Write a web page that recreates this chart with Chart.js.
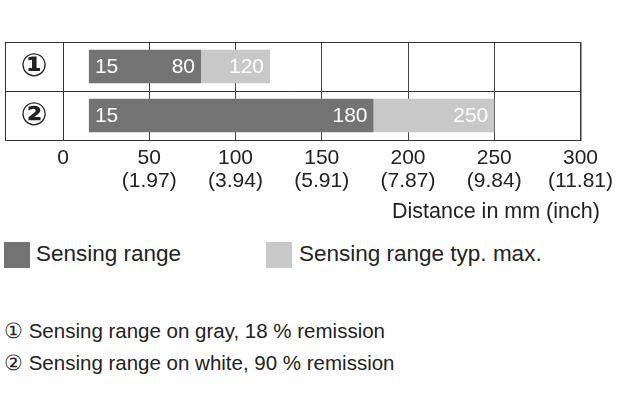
<!DOCTYPE html>
<html><head><meta charset="utf-8">
<script src="https://cdn.jsdelivr.net/npm/chart.js@4"></script>
<style>
body{margin:0;width:620px;height:420px;background:#fff;font-family:"Liberation Sans",Arial,sans-serif;color:#222;position:relative;overflow:hidden}
#c{position:absolute;left:0;top:0}
.t{position:absolute;white-space:nowrap}
.sw{position:absolute;width:26px;height:26px}
</style></head><body>
<canvas id="c" width="620" height="230"></canvas>
<div class="t" style="left:392px;top:199px;font-size:21.5px">Distance in mm (inch)</div>
<div class="sw" style="left:4px;top:242px;background:#737373"></div>
<div class="t" style="left:36px;top:241px;font-size:22.5px">Sensing range</div>
<div class="sw" style="left:266px;top:242px;background:#c8c8c8"></div>
<div class="t" style="left:299px;top:241px;font-size:22.5px">Sensing range typ. max.</div>
<div class="t" style="left:4px;top:319px;font-size:20.5px">① Sensing range on gray, 18 % remission</div>
<div class="t" style="left:4px;top:351px;font-size:20.5px">② Sensing range on white, 90 % remission</div>
<script>
const categories = ['①','②'];
const rangeStart = [15, 15];
const rangeEnd = [80, 180];
const maxEnd = [120, 250];
const tickValues = [0,50,100,150,200,250,300];
const tickInch = ['', '(1.97)','(3.94)','(5.91)','(7.87)','(9.84)','(11.81)'];

const frame = {
  id:'frame',
  afterDraw(ch){
    const c=ch.ctx, a=ch.chartArea, x=ch.scales.x, y=ch.scales.y;
    c.save();
    c.strokeStyle='#333'; c.lineWidth=1;
    c.strokeRect(5.5,a.top+0.5,a.right-5,a.bottom-a.top);
    c.beginPath();
    c.moveTo(a.left+0.5,a.top); c.lineTo(a.left+0.5,a.bottom);
    const mid=Math.round((y.getPixelForValue(0)+y.getPixelForValue(1))/2)+0.5;
    c.moveTo(5,mid); c.lineTo(a.right,mid);
    c.stroke();
    c.fillStyle='#222'; c.font='bold 32px "DejaVu Sans"'; c.textAlign='center'; c.textBaseline='middle';
    categories.forEach((l,i)=>c.fillText(l,34,y.getPixelForValue(i)+1));
    c.fillStyle='#fff'; c.font='21px "Liberation Sans"';
    categories.forEach((l,i)=>{
      const py=y.getPixelForValue(i)+1;
      c.textAlign='left'; c.fillText(String(rangeStart[i]),x.getPixelForValue(rangeStart[i])+6,py);
      c.textAlign='right'; c.fillText(String(rangeEnd[i]),x.getPixelForValue(rangeEnd[i])-6,py);
      c.fillText(String(maxEnd[i]),x.getPixelForValue(maxEnd[i])-6,py);
    });
    c.restore();
  }
};

new Chart(document.getElementById('c'),{
  type:'bar',
  data:{labels:categories,datasets:[
    {data:categories.map((_,i)=>[rangeStart[i],rangeEnd[i]]),backgroundColor:'#737373',grouped:false},
    {data:categories.map((_,i)=>[rangeEnd[i],maxEnd[i]]),backgroundColor:'#c8c8c8',grouped:false}
  ]},
  options:{
    indexAxis:'y',responsive:false,animation:false,
    layout:{padding:{left:63,right:32,top:42}},
    plugins:{legend:{display:false},tooltip:{enabled:false}},
    datasets:{bar:{categoryPercentage:1,barPercentage:0.68}},
    scales:{
      y:{display:false},
      x:{min:0,max:300,
        afterBuildTicks(s){s.ticks=tickValues.map(v=>({value:v}));},
        afterFit(s){s.height=90;},
        border:{display:false},
        grid:{color:'#444',drawTicks:false},
        ticks:{padding:7,color:'#222',font:{size:21,family:'Liberation Sans',lineHeight:1.1},
          callback:(v,i)=>[String(tickValues[i]),tickInch[i]]}
      }
    }
  },
  plugins:[frame]
});
</script></body></html>
